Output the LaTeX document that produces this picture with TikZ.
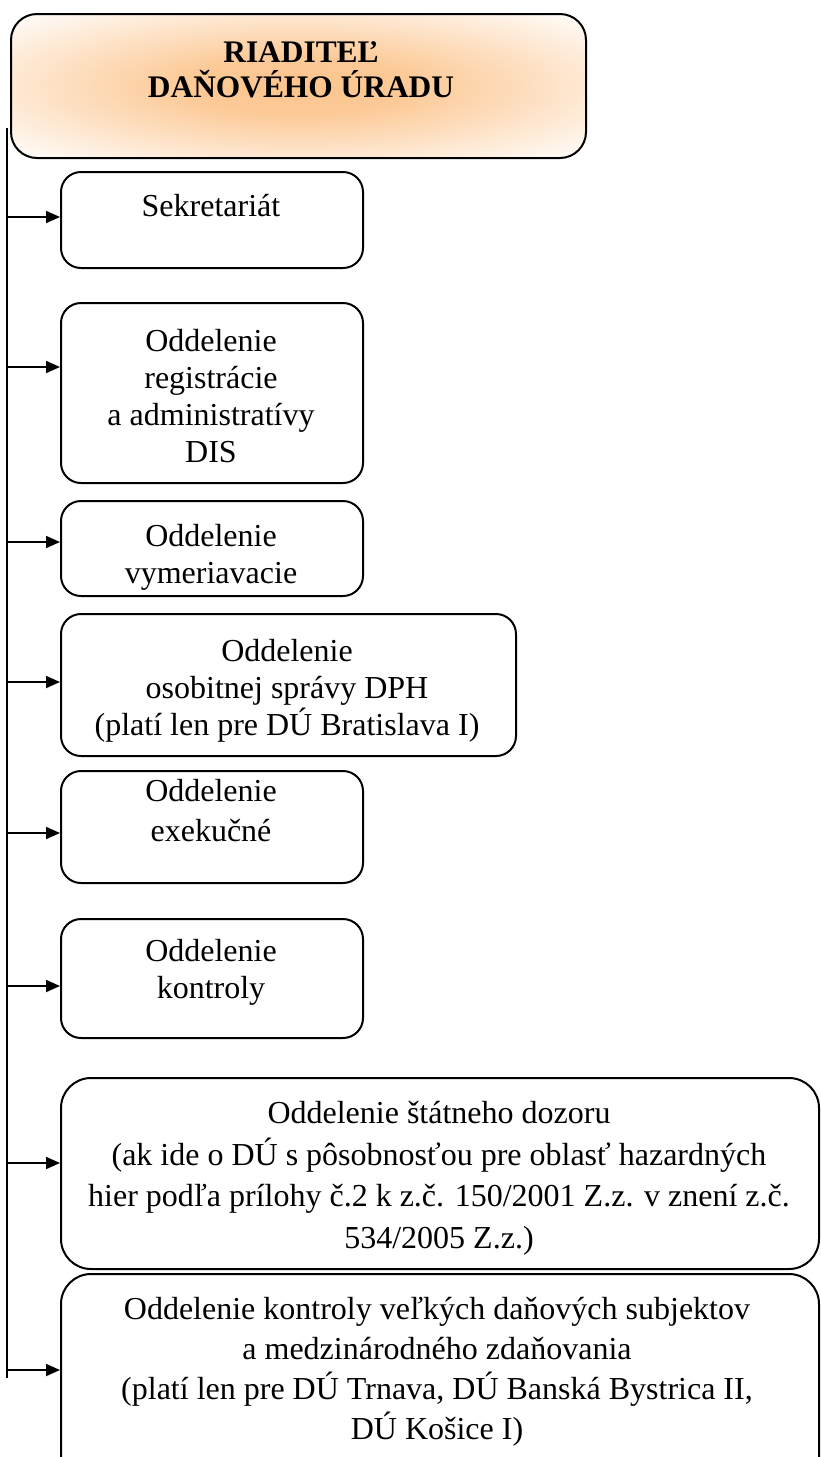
\documentclass[tikz,border=0pt]{standalone}
\usepackage{fontspec}
\setmainfont{Liberation Serif}
\usetikzlibrary{arrows.meta}

\definecolor{peach}{RGB}{252,196,140}
\pgfdeclareradialshading{glow}{\pgfpoint{0bp}{0bp}}{color(0bp)=(peach); color(10bp)=(peach!90!white); color(36bp)=(white); color(50bp)=(white)}
\newcommand{\unitfont}{\fontsize{16}{18.5}\selectfont}

\begin{document}
\begin{tikzpicture}[x=0.5pt, y=-0.5pt,
  unit/.style={draw, line width=1pt, rounded corners=10pt, inner sep=0pt, anchor=north west},
  caption/.style={align=center, inner sep=0pt, anchor=base, font=\unitfont},
  feed/.style={-{Triangle[length=7pt,width=6pt]}, line width=0.9pt}]
\clip (0,0) rectangle (820,1457);

% director
\node[unit, rounded corners=13pt, minimum width=287.5pt, minimum height=72pt, shade, shading=glow] (head) at (10,13) {};
\node[caption, font=\fontsize{15.7}{17.5}\selectfont\bfseries] (headT) at (301,97) {RIADITEĽ\\DAŇOVÉHO ÚRADU};

% departments
\node[unit, minimum width=151pt, minimum height=48pt] (sek) at (60,171) {};
\node[unit, minimum width=151pt, minimum height=90pt] (reg) at (60,302) {};
\node[unit, minimum width=151pt, minimum height=47.5pt] (vym) at (60,500) {};
\node[unit, minimum width=227.5pt, minimum height=71pt] (dph) at (60,613) {};
\node[unit, minimum width=151pt, minimum height=56pt] (exe) at (60,770) {};
\node[unit, minimum width=151pt, minimum height=59.5pt] (kon) at (60,918) {};
\node[unit, rounded corners=15pt, minimum width=379pt, minimum height=95.5pt] (doz) at (60,1077) {};
\node[unit, rounded corners=15pt, minimum width=379pt, minimum height=110pt] (vel) at (60,1273) {};

% captions, placed by last baseline
\node[caption] (sekT) at (211,216) {Sekretariát};
\node[caption] (regT) at (211,462) {Oddelenie\\registrácie\\a administratívy\\DIS};
\node[caption] (vymT) at (211,583) {Oddelenie\\vymeriavacie};
\node[caption] (dphT) at (287,735) {Oddelenie\\osobitnej správy DPH\\(platí len pre DÚ Bratislava I)};
\node[caption, font=\fontsize{16}{20}\selectfont] (exeT) at (211,841) {Oddelenie\\exekučné};
\node[caption] (konT) at (211,998) {Oddelenie\\kontroly};
\node[caption, font=\fontsize{16}{20.7}\selectfont] (dozT) at (439,1248) {Oddelenie štátneho dozoru\\(ak ide o DÚ s pôsobnosťou pre oblasť hazardných\\hier podľa prílohy č.2 k z.č. 150/2001 Z.z. v znení z.č.\\534/2005 Z.z.)};
\node[caption, font=\fontsize{16}{20}\selectfont] (velT) at (437,1439) {Oddelenie kontroly veľkých daňových subjektov\\a medzinárodného zdaňovania\\(platí len pre DÚ Trnava, DÚ Banská Bystrica II,\\DÚ Košice I)};

% trunk and feeds
\coordinate (top) at (7,128);
\coordinate (bot) at (7,1378);
\draw[line width=0.9pt] (top) -- (bot);
\foreach \b/\y in {sek/217, reg/367, vym/542, dph/682, exe/833, kon/986, doz/1163, vel/1370}{
  \coordinate (t-\b) at (7,\y);
  \draw[feed] (t-\b) -- (t-\b -| \b.west);
}
\end{tikzpicture}
\end{document}
